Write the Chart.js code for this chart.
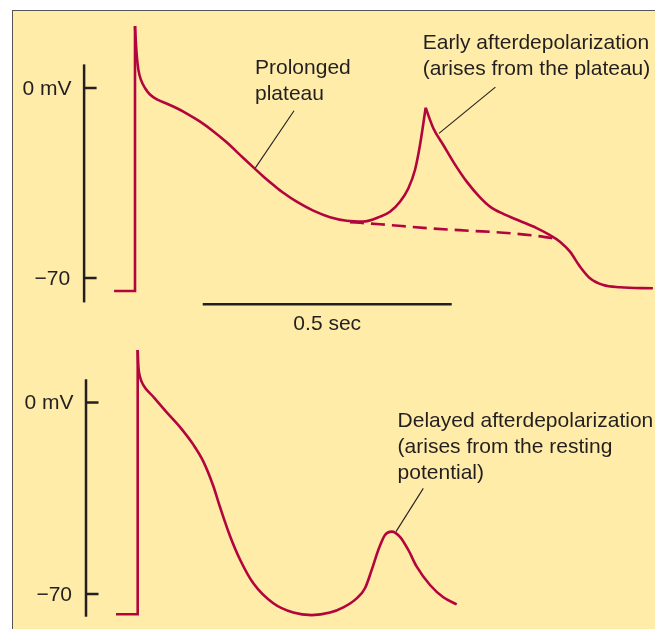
<!DOCTYPE html>
<html>
<head>
<meta charset="utf-8">
<script src="https://cdn.jsdelivr.net/npm/chart.js@4.4.1/dist/chart.umd.min.js"></script>
<style>
  html, body { margin: 0; padding: 0; background: #fff; }
  body { width: 655px; height: 629px; position: relative; overflow: hidden; }
  #panel {
    position: absolute; left: 12px; top: 10px; right: 0; bottom: 0;
    background: #FEECA8;
    border-left: 1px solid #555; border-top: 1px solid #555;
  }
  canvas { position: absolute; left: 0; }
  #topChart { top: 0; }
  #botChart { top: 340px; }
</style>
</head>
<body>
<div id="panel"></div>
<canvas id="topChart" width="655" height="340"></canvas>
<canvas id="botChart" width="655" height="289"></canvas>
<script>
// time in ms, membrane potential in mV

// top trace: early afterdepolarization
const topUpT = [-42, 0, 0];
const topUpV = [-74.8, -74.8, 22.8];
const topRiseT = [0, 2, 4, 7, 12, 20, 30, 45, 62, 80, 104, 130, 157, 184, 217.5, 241, 257.6, 281.1, 297.8, 324.7, 358, 391.6, 425, 458, 492, 512, 532.1, 548.8, 562.2, 572.3, 583.7];
const topRiseV = [22.8, 16, 11, 6.5, 3, 0, -2.4, -4.3, -5.6, -7.1, -9.4, -12.3, -15.9, -20, -25.8, -29.8, -32.6, -36.2, -38.6, -41.9, -45.2, -47.6, -48.9, -49.2, -47.4, -45.6, -41.9, -37, -30.2, -21, -7.3];
const topFallT = [583.7, 599, 619.1, 639.2, 666.1, 692.8, 712.9, 739.6, 773.1, 806.6, 833.3, 853.4, 873.5, 893.6, 913.7, 940.4, 973.9, 1040];
const topFallV = [-7.3, -14.8, -21, -27.2, -34.5, -40.3, -43.7, -46.4, -49, -51.6, -54.2, -56.6, -60.3, -65.8, -70.1, -72.6, -73.4, -73.8];
// repolarization without the afterdepolarization (dashed)
const topDashT = [431.7, 492, 592, 672.7, 739.6, 806.6, 850];
const topDashV = [-49.4, -50.2, -51.7, -52.6, -53.3, -54.5, -55.7];

// bottom trace: delayed afterdepolarization
const botUpT = [-38.2, 5.4, 5.4];
const botUpV = [-77.4, -77.4, 19.2];
const botDecayT = [5.4, 6.6, 10, 16.7, 36.7, 63.7, 90.4, 117.1, 137.1, 157.2, 170.7, 190.8, 210.8, 237.6, 277.7, 317.9, 354.8, 391.6, 418.3, 445.2, 461.8, 475.3, 488.6, 502, 515.5, 532.1, 548.8, 565.7, 592.4, 619.1, 646];
const botDecayV = [19.2, 13.7, 9.4, 6.4, 2.1, -3.6, -9, -15.4, -21.5, -30.5, -38.2, -48.8, -57.4, -66.1, -73.4, -76.8, -77.7, -76.8, -74.9, -71.6, -67.9, -61.2, -53.9, -48.4, -47.2, -49.1, -53.9, -60, -66.7, -71.2, -73.8];

// axis ticks
const tickValues = [0, -70];
const tickLabels = ['0 mV', '\u221270'];
const scaleBarMs = 500;
const scaleBarLabel = '0.5 sec';

const topNotes = [
  { lines: ['Prolonged', 'plateau'], t: 241, v: 7.4, from: [319.3, -8.4], to: [241, -29.6] },
  { lines: ['Early afterdepolarization', '(arises from the plateau)'], t: 577.7, v: 16.5, from: [723.7, 0.3], to: [610.4, -16.7] }
];
const botNotes = [
  { lines: ['Delayed afterdepolarization', '(arises from the resting', 'potential)'], t: 527.3, v: -7, from: [578.9, -31.4], to: [524.1, -47.2] }
];

const RED = '#B3053D';
const INK = '#231F20';
const FONT = '21px "Liberation Sans", Arial, sans-serif';

function pts(ts, vs) {
  return ts.map((t, i) => ({ x: t, y: vs[i] }));
}

function trace(ts, vs, smooth, dashed) {
  return {
    data: pts(ts, vs),
    borderColor: RED,
    borderWidth: 2.6,
    borderDash: dashed ? [14, 7] : [],
    cubicInterpolationMode: smooth ? 'monotone' : 'default',
    tension: 0,
    pointRadius: 0,
    fill: false,
    clip: false
  };
}

// axis bar, tick marks, labels and notes
function decor(opts) {
  return {
    id: 'decor',
    beforeDatasetsDraw(chart) {
      const ctx = chart.ctx;
      const xs = chart.scales.x, ys = chart.scales.y;
      ctx.save();
      ctx.strokeStyle = INK;
      ctx.fillStyle = INK;
      ctx.lineCap = 'butt';
      ctx.font = FONT;

      // vertical axis
      const ax = xs.getPixelForValue(opts.axisT);
      ctx.lineWidth = 2.5;
      ctx.beginPath();
      ctx.moveTo(ax, ys.getPixelForValue(opts.axisTop));
      ctx.lineTo(ax, ys.getPixelForValue(opts.axisBottom));
      ctx.stroke();
      ctx.textAlign = 'right';
      ctx.textBaseline = 'middle';
      tickValues.forEach((v, i) => {
        const y = ys.getPixelForValue(v);
        ctx.beginPath();
        ctx.moveTo(ax, y);
        ctx.lineTo(ax + 12.5, y);
        ctx.stroke();
        ctx.fillText(tickLabels[i], ax - (i === 0 ? 12.5 : 14), y + 1);
      });

      // time scale bar
      if (opts.scaleBar) {
        const y = ys.getPixelForValue(opts.scaleBar.v);
        const x1 = xs.getPixelForValue(opts.scaleBar.t);
        const x2 = xs.getPixelForValue(opts.scaleBar.t + scaleBarMs);
        ctx.lineWidth = 2.5;
        ctx.beginPath();
        ctx.moveTo(x1, y);
        ctx.lineTo(x2, y);
        ctx.stroke();
        ctx.textAlign = 'center';
        ctx.fillText(scaleBarLabel, (x1 + x2) / 2, y + 19.5);
      }

      // notes with leader lines
      ctx.textAlign = 'left';
      ctx.lineWidth = 1.1;
      opts.notes.forEach(n => {
        const x = xs.getPixelForValue(n.t);
        const y = ys.getPixelForValue(n.v);
        n.lines.forEach((s, i) => ctx.fillText(s, x, y + i * 25.8));
        ctx.beginPath();
        ctx.moveTo(xs.getPixelForValue(n.from[0]), ys.getPixelForValue(n.from[1]));
        ctx.lineTo(xs.getPixelForValue(n.to[0]), ys.getPixelForValue(n.to[1]));
        ctx.stroke();
      });
      ctx.restore();
    }
  };
}

function makeChart(id, datasets, yMin, yMax, plugin) {
  return new Chart(document.getElementById(id), {
    type: 'line',
    data: { datasets: datasets },
    options: {
      responsive: false,
      animation: false,
      devicePixelRatio: 1,
      layout: { padding: 0 },
      plugins: {
        legend: { display: false },
        tooltip: { enabled: false }
      },
      scales: {
        x: { type: 'linear', display: false, min: -271.1, max: 1044.2 },
        y: { type: 'linear', display: false, min: yMin, max: yMax }
      }
    },
    plugins: [plugin]
  });
}

makeChart('topChart', [
  trace(topDashT, topDashV, true, true),
  trace(topUpT, topUpV, false, false),
  trace(topRiseT, topRiseV, true, false),
  trace(topFallT, topFallV, true, false)
], -92.84, 32.42, decor({
  axisT: -102.2, axisTop: 8.7, axisBottom: -79,
  scaleBar: { t: 136, v: -79.7 },
  notes: topNotes
}));

makeChart('botChart', [
  trace(botUpT, botUpV, false, false),
  trace(botDecayT, botDecayV, true, false)
], -82.79, 22.85, decor({
  axisT: -98.4, axisTop: 8.5, axisBottom: -78.3,
  notes: botNotes
}));
</script>
</body>
</html>
